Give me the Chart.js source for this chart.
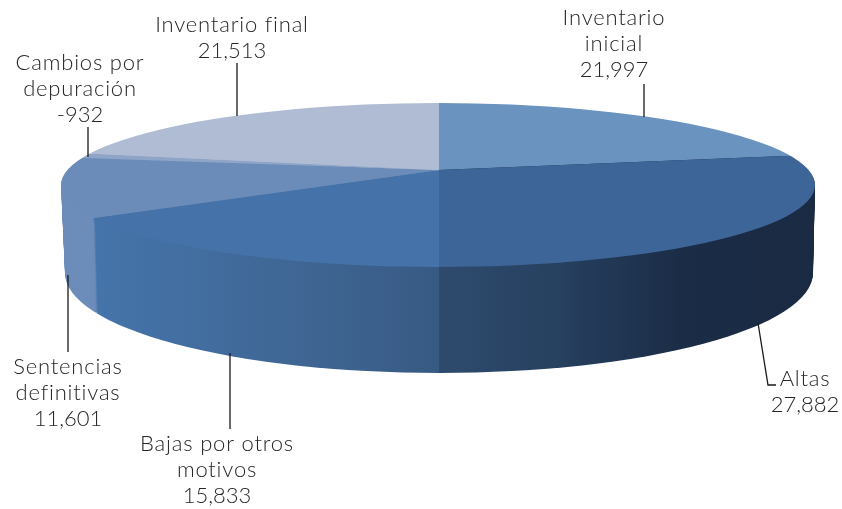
<!DOCTYPE html>
<html>
<head>
<meta charset="utf-8">
<script src="https://cdn.jsdelivr.net/npm/chart.js@4/dist/chart.umd.min.js"></script>
<style>
  html, body { margin: 0; padding: 0; background: #fff; }
  #wrap { width: 842px; height: 509px; position: relative; }
  canvas { display: block; }
</style>
</head>
<body>
<div id="wrap"><canvas id="pie"></canvas></div>
<script>
// ---------- Data ----------
const categories = [
  ["Inventario", "inicial"],
  ["Altas"],
  ["Bajas por otros", "motivos"],
  ["Sentencias", "definitivas"],
  ["Cambios por", "depuración"],
  ["Inventario final"],
];
const values = [21997, 27882, 15833, 11601, -932, 21513];

// ---------- Colours ----------
const topColors = ["#6b93bf", "#3d6598", "#4572a8", "#6b8cb8", "#8fa5c8", "#b0bcd3"];

// ---------- Fake 3D geometry (px on the page) ----------
const APEX = { x: 439, y: 170 };          // where the slice edges meet
const TILT = 0.215;                       // vertical squash of the disc
const DISC_R = 700;                       // oversize radius, the ellipse clip trims it
const TOP_RIM = { x: 438, y: 185, rx: 377, ry: 82 };
const BOTTOM_RIM = { x: 439, y: 273, rx: 374, ry: 100 };
const DEPTH = 95;

// ---------- Label placement ----------
const labelCenters = [[614, 18], [805, 379], [217, 444], [68, 367], [80, 63], [232, 25]];
const LINE_H = 26;
const leaders = [
  [[644, 84], [644, 117]],
  [[758, 323], [768, 385], [776, 385]],
  [[230, 353], [230, 429]],
  [[68, 275], [68, 352]],
  [[88, 127], [88, 157]],
  [[237, 63], [237, 116]],
];

function sideGradients(ctx, arc) {
  const k = DISC_R / arc.outerRadius;
  const make = stops => {
    const g = ctx.createLinearGradient(arc.x + (60 - APEX.x) / k, 0, arc.x + (820 - APEX.x) / k, 0);
    stops.forEach(s => g.addColorStop((s[0] - 60) / 760, s[1]));
    return g;
  };
  const bajas = make([[60, "#4675ad"], [100, "#4574aa"], [300, "#3f6694"], [440, "#375a83"], [820, "#375a83"]]);
  const altas = make([[60, "#2e4b6e"], [440, "#2e4b6e"], [560, "#26405f"], [680, "#1b2c46"], [820, "#1a2a43"]]);
  return ["#1a2a43", altas, bajas, "#6d8dba", "#6d8dba", "#b0bcd3"];
}

const pie3d = {
  id: "pie3d",
  beforeDatasetsDraw(chart) {
    const ctx = chart.ctx;
    const arcs = chart.getDatasetMeta(0).data;
    const k = DISC_R / arcs[0].outerRadius;
    const sides = sideGradients(ctx, arcs[0]);

    const paint = (apexY, rim, colors) => {
      ctx.save();
      ctx.beginPath();
      ctx.ellipse(rim.x, rim.y, rim.rx, rim.ry, 0, 0, Math.PI * 2);
      ctx.clip();
      ctx.translate(APEX.x, apexY);
      ctx.scale(k, k * TILT);
      ctx.translate(-arcs[0].x, -arcs[0].y);
      arcs.forEach((arc, i) => {
        const opts = Object.assign({}, arc.options, { backgroundColor: colors[i], borderWidth: 0 });
        arc.draw.call(Object.create(arc, { options: { value: opts } }), ctx);
      });
      ctx.restore();
    };

    // side wall: stack of discs from the bottom rim up to the top rim
    for (let d = DEPTH; d > 0; d--) {
      const t = d / DEPTH;
      paint(APEX.y + d, {
        x: TOP_RIM.x + (BOTTOM_RIM.x - TOP_RIM.x) * t,
        y: TOP_RIM.y + (BOTTOM_RIM.y - TOP_RIM.y) * t,
        rx: TOP_RIM.rx + (BOTTOM_RIM.rx - TOP_RIM.rx) * t,
        ry: TOP_RIM.ry + (BOTTOM_RIM.ry - TOP_RIM.ry) * t,
      }, sides);
    }
    paint(APEX.y, TOP_RIM, topColors);
    return false;
  },
  afterDraw(chart) {
    const ctx = chart.ctx;
    ctx.save();
    ctx.strokeStyle = "#1a1a1a";
    ctx.lineWidth = 1.3;
    leaders.forEach(pts => {
      ctx.beginPath();
      pts.forEach((p, i) => i ? ctx.lineTo(p[0], p[1]) : ctx.moveTo(p[0], p[1]));
      ctx.stroke();
    });
    ctx.fillStyle = "#262626";
    ctx.font = "300 22px Lato";
    ctx.textAlign = "center";
    ctx.textBaseline = "middle";
    categories.forEach((cat, i) => {
      const [cx, cy] = labelCenters[i];
      ctx.letterSpacing = "0.8px";
      cat.forEach((line, j) => ctx.fillText(line, cx, cy + j * LINE_H));
      // numbers run tighter than the words in the reference
      ctx.letterSpacing = "0px";
      ctx.fillText(values[i].toLocaleString("en-US"), cx, cy + cat.length * LINE_H);
    });
    ctx.restore();
  },
};

new Chart(document.getElementById("pie"), {
  type: "pie",
  data: {
    labels: categories.map(c => c.join(" ")),
    datasets: [{ data: values, backgroundColor: topColors, borderWidth: 0 }],
  },
  options: {
    responsive: true,
    maintainAspectRatio: false,
    animation: false,
    plugins: { legend: { display: false }, tooltip: { enabled: false } },
  },
  plugins: [pie3d],
});
</script>
</body>
</html>
